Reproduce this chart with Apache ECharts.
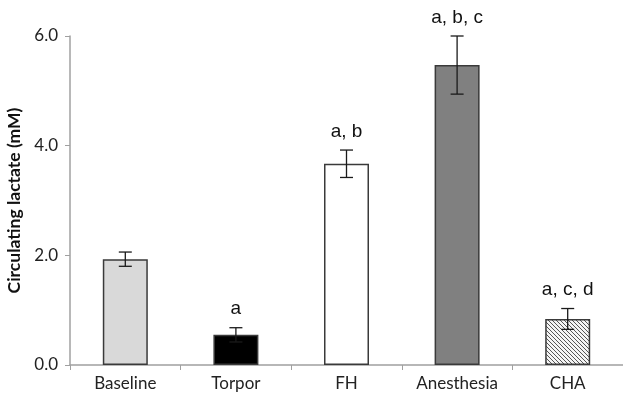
<!DOCTYPE html>
<html><head><meta charset="utf-8">
<script src="https://cdn.jsdelivr.net/npm/echarts@6/dist/echarts.min.js"></script>
<style>html,body{margin:0;padding:0;background:#fff}#c{width:623px;height:404px}</style>
</head><body><div id="c"></div>
<script>
const categories = ['Baseline', 'Torpor', 'FH', 'Anesthesia', 'CHA'];
const values = [1.93, 0.55, 3.67, 5.47, 0.84];
const errors = [0.13, 0.13, 0.25, 0.53, 0.19];
const annotations = ['', 'a', 'a, b', 'a, b, c', 'a, c, d'];
const yTicks = [0, 2, 4, 6];

// hatch pattern
const pc = document.createElement('canvas');
pc.width = 4; pc.height = 4;
const px = pc.getContext('2d');
px.fillStyle = '#f4f4f4'; px.fillRect(0, 0, 4, 4);
px.strokeStyle = '#555'; px.lineWidth = 1;
px.beginPath(); px.moveTo(0, 0); px.lineTo(4, 4); px.stroke();
px.beginPath(); px.moveTo(-2, 2); px.lineTo(2, 6); px.stroke();
px.beginPath(); px.moveTo(2, -2); px.lineTo(6, 2); px.stroke();

const fills = ['#d9d9d9', '#000000', '#ffffff', '#808080', { image: pc, repeat: 'repeat' }];

const chart = echarts.init(document.getElementById('c'), null, { renderer: 'canvas' });
chart.setOption({
  animation: false,
  grid: { left: 70, right: 0, top: 36, bottom: 39, containLabel: false, outerBoundsMode: 'none' },
  xAxis: {
    type: 'category', data: categories,
    axisLine: { lineStyle: { color: '#a0a0a0', width: 1.5 } },
    axisTick: { show: true, alignWithLabel: false, length: 5, lineStyle: { color: '#a0a0a0' } },
    axisLabel: { color: '#222', fontFamily: 'Lato', fontSize: 17, margin: 10 }
  },
  yAxis: {
    type: 'value', min: yTicks[0], max: yTicks[yTicks.length - 1], interval: 2,
    name: 'Circulating lactate (mM)', nameLocation: 'middle', nameGap: 44,
    nameTextStyle: { fontFamily: 'Lato', fontWeight: 'bold', fontSize: 17.5, color: '#111' },
    splitLine: { show: false },
    axisLine: { show: true, lineStyle: { color: '#a0a0a0', width: 1.5 } },
    axisTick: { show: true, length: 5, lineStyle: { color: '#a0a0a0' } },
    axisLabel: { color: '#222', fontFamily: 'Lato', fontSize: 17, margin: 12, formatter: v => v.toFixed(1) }
  },
  series: [
    {
      type: 'bar', barWidth: 45,
      data: values.map((v, i) => ({ value: v, itemStyle: { color: fills[i] } })),
      itemStyle: { borderColor: '#3a3a3a', borderWidth: 1.5 }
    },
    {
      type: 'custom',
      data: values.map((v, i) => [i, v, errors[i]]),
      renderItem: function (params, api) {
        const i = api.value(0), v = api.value(1), e = api.value(2);
        const top = api.coord([i, v + e]);
        const bot = api.coord([i, v - e]);
        const x = top[0];
        const hw = 6.5;
        const style = { stroke: '#1a1a1a', lineWidth: 1.3 };
        const children = [
          { type: 'line', shape: { x1: x, y1: top[1], x2: x, y2: bot[1] }, style },
          { type: 'line', shape: { x1: x - hw, y1: top[1], x2: x + hw, y2: top[1] }, style },
          { type: 'line', shape: { x1: x - hw, y1: bot[1], x2: x + hw, y2: bot[1] }, style }
        ];
        const lab = annotations[i];
        if (lab) {
          children.push({
            type: 'text',
            style: { text: lab, x: x, y: top[1] - 9, align: 'center', verticalAlign: 'bottom',
              fill: '#111', font: '19px "Liberation Sans", Arial, sans-serif' }
          });
        }
        return { type: 'group', children };
      },
      z: 5
    }
  ]
});
</script></body></html>
